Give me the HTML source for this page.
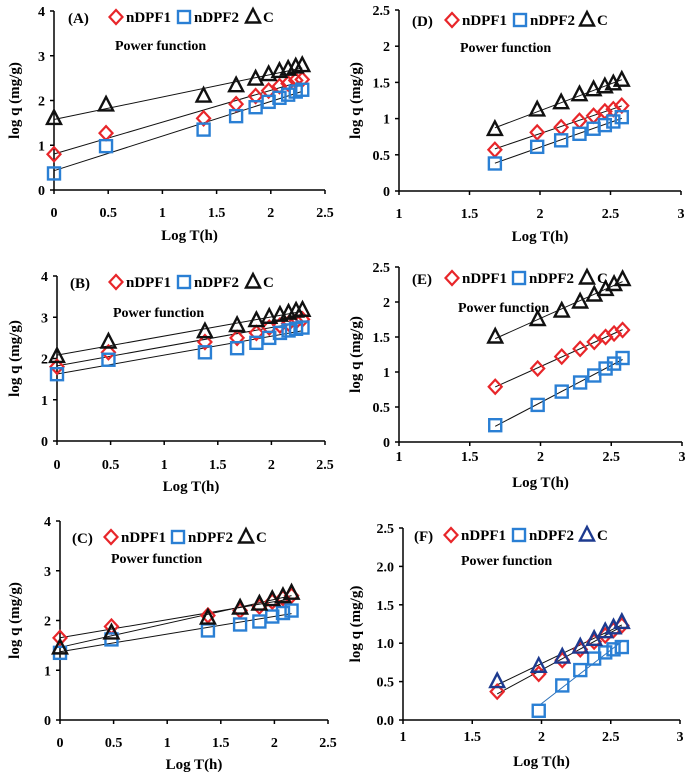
<!DOCTYPE html>
<html><head><meta charset="utf-8">
<style>
html,body{margin:0;padding:0;background:#fff;}
svg{display:block;font-family:"Liberation Serif",serif;font-weight:bold;}
</style></head>
<body>
<svg id="fig" width="685" height="775" viewBox="0 0 685 775" xmlns="http://www.w3.org/2000/svg"></svg>
<script>
// ---- data ----
const xA = [0,0.48,1.38,1.68,1.86,1.98,2.08,2.16,2.23,2.29];
const aDPF1 = [0.8,1.27,1.6,1.92,2.1,2.22,2.32,2.38,2.45,2.47];
const aDPF2 = [0.37,0.98,1.35,1.65,1.85,1.97,2.06,2.13,2.2,2.24];
const aC = [1.6,1.9,2.1,2.33,2.48,2.58,2.65,2.7,2.75,2.78];
const xB = [0,0.48,1.38,1.68,1.86,1.98,2.08,2.16,2.23,2.29];
const bDPF1 = [1.8,2.15,2.4,2.5,2.62,2.75,2.8,2.85,2.9,2.95];
const bDPF2 = [1.62,1.97,2.15,2.25,2.38,2.5,2.62,2.68,2.72,2.75];
const bC = [2.05,2.4,2.65,2.8,2.92,3.0,3.05,3.1,3.15,3.17];
const xC = [0,0.48,1.38,1.68,1.86,1.98,2.08,2.16];
const cDPF1 = [1.65,1.88,2.1,2.2,2.28,2.38,2.45,2.5];
const cDPF2 = [1.35,1.62,1.8,1.92,1.98,2.08,2.15,2.2];
const cC = [1.45,1.75,2.05,2.25,2.33,2.42,2.48,2.55];
const xD = [1.68,1.98,2.15,2.28,2.38,2.46,2.52,2.58];
const dDPF1 = [0.57,0.81,0.88,0.97,1.04,1.1,1.13,1.18];
const dDPF2 = [0.38,0.61,0.7,0.79,0.86,0.91,0.96,1.02];
const dC = [0.85,1.12,1.22,1.33,1.4,1.44,1.48,1.53];
const xE = [1.68,1.98,2.15,2.28,2.38,2.46,2.52,2.58];
const eDPF1 = [0.79,1.05,1.22,1.33,1.43,1.5,1.55,1.6];
const eDPF2 = [0.24,0.53,0.72,0.85,0.95,1.05,1.12,1.2];
const eC = [1.5,1.75,1.87,2.0,2.1,2.18,2.25,2.32];
const xF = [1.68,1.98,2.15,2.28,2.38,2.46,2.52,2.58];
const xF2 = [1.98,2.15,2.28,2.38,2.46,2.52,2.58];
const fDPF1 = [0.37,0.6,0.78,0.92,1.02,1.1,1.17,1.23];
const fDPF2 = [0.12,0.45,0.65,0.8,0.88,0.92,0.95];
const fC = [0.5,0.7,0.82,0.95,1.05,1.15,1.2,1.27];
const xTicksLeft = [0,0.5,1,1.5,2,2.5];
const xTickLabelsLeft = ["0","0.5","1","1.5","2","2.5"];
const yTicksLeft = [0,1,2,3,4];
const yTickLabelsLeft = ["0","1","2","3","4"];
const xTicksRight = [1,1.5,2,2.5,3];
const xTickLabelsRight = ["1","1.5","2","2.5","3"];
const yTicksRight = [0,0.5,1,1.5,2,2.5];
const yTickLabelsRight = ["0","0.5","1","1.5","2","2.5"];
const yTickLabelsF = ["0.0","0.5","1.0","1.5","2.0","2.5"];

const svg = document.getElementById('fig');
const NS = 'http://www.w3.org/2000/svg';
function mk(tag, attrs, parent){const e=document.createElementNS(NS,tag);for(const k in attrs)e.setAttribute(k,attrs[k]);(parent||svg).appendChild(e);return e;}
function fit(xs,ys){const n=xs.length;let sx=0,sy=0,sxx=0,sxy=0;for(let i=0;i<n;i++){sx+=xs[i];sy+=ys[i];sxx+=xs[i]*xs[i];sxy+=xs[i]*ys[i];}const b=(n*sxy-sx*sy)/(n*sxx-sx*sx);return {b:b,a:(sy-b*sx)/n};}

function marker(g,type,cx,cy,color){
  let e;
  if(type==='diamond'){e=mk('polygon',{points:`${cx},${cy-7} ${cx+6.5},${cy} ${cx},${cy+7} ${cx-6.5},${cy}`,fill:'none',stroke:color,'stroke-width':2.2},g);}
  else if(type==='square'){e=mk('rect',{x:cx-6,y:cy-6,width:12,height:12,fill:'none',stroke:color,'stroke-width':2.4},g);}
  else {e=mk('polygon',{points:`${cx},${cy-8} ${cx+7},${cy+5.5} ${cx-7},${cy+5.5}`,fill:'none',stroke:color,'stroke-width':2.4},g);}
  return e;
}

const panels = [
 {id:'A',ax:54,right:325,top:11,bot:190,xmin:0,xmax:2.5,ymax:4,xt:xTicksLeft,xl:xTickLabelsLeft,yt:yTicksLeft,yl:yTickLabelsLeft,
  series:[[xA,aDPF1,'diamond','#e8262a'],[xA,aDPF2,'square','#2a7fd4'],[xA,aC,'triangle','#111']],
  lab:68,labY:17,leg:[116,184,253],powX:115,powY:45,xlabY:212,titleY:235,ytitleX:14,fitColor:['#111','#111','#111']},
 {id:'B',ax:57,right:325,top:276,bot:441,xmin:0,xmax:2.5,ymax:4,xt:xTicksLeft,xl:xTickLabelsLeft,yt:yTicksLeft,yl:yTickLabelsLeft,
  series:[[xB,bDPF1,'diamond','#e8262a'],[xB,bDPF2,'square','#2a7fd4'],[xB,bC,'triangle','#111']],
  lab:70,labY:282,leg:[116,184,253],powX:113,powY:312,xlabY:464,titleY:486,ytitleX:14,fitColor:['#111','#111','#111']},
 {id:'C',ax:60,right:328,top:521,bot:720,xmin:0,xmax:2.5,ymax:4,xt:xTicksLeft,xl:xTickLabelsLeft,yt:yTicksLeft,yl:yTickLabelsLeft,
  series:[[xC,cDPF1,'diamond','#e8262a'],[xC,cDPF2,'square','#2a7fd4'],[xC,cC,'triangle','#111']],
  lab:72,labY:537,leg:[111,178,246],powX:111,powY:558,xlabY:742,titleY:764,ytitleX:14,fitColor:['#111','#111','#111']},
 {id:'D',ax:399,right:681,top:10,bot:191,xmin:1,xmax:3,ymax:2.5,xt:xTicksRight,xl:xTickLabelsRight,yt:yTicksRight,yl:yTickLabelsRight,
  series:[[xD,dDPF1,'diamond','#e8262a'],[xD,dDPF2,'square','#2a7fd4'],[xD,dC,'triangle','#111']],
  lab:412,labY:20,leg:[452,520,587],powX:460,powY:47,xlabY:213,titleY:236,ytitleX:355,fitColor:['#111','#111','#111']},
 {id:'E',ax:399,right:682,top:267,bot:442,xmin:1,xmax:3,ymax:2.5,xt:xTicksRight,xl:xTickLabelsRight,yt:yTicksRight,yl:yTickLabelsRight,
  series:[[xE,eDPF1,'diamond','#e8262a'],[xE,eDPF2,'square','#2a7fd4'],[xE,eC,'triangle','#111']],
  lab:412,labY:278,leg:[452,519,587],powX:458,powY:307,xlabY:456,titleY:482,ytitleX:355,fitColor:['#111','#111','#111']},
 {id:'F',ax:403,right:680,top:528,bot:720,xmin:1,xmax:3,ymax:2.5,xt:xTicksRight,xl:xTickLabelsRight,yt:yTicksRight,yl:yTickLabelsF,
  series:[[xF,fDPF1,'diamond','#e8262a'],[xF2,fDPF2,'square','#2a7fd4'],[xF,fC,'triangle','#1d3a8f']],
  lab:414,labY:535,leg:[451,519,587],powX:461,powY:560,xlabY:736,titleY:761,ytitleX:355,fitColor:['#111','#2a6fb8','#111']}
];
const legNames=['nDPF1','nDPF2','C'];

panels.forEach(p=>{
  const g=mk('g',{});
  
  
  const sx=v=>p.ax+(v-p.xmin)/(p.xmax-p.xmin)*(p.right-p.ax);
  const sy=v=>p.bot-v/p.ymax*(p.bot-p.top);
  const ya=mk('line',{x1:p.ax,y1:p.top,x2:p.ax,y2:p.bot,stroke:'#000','stroke-width':1.5},g);
  
  
  const xa=mk('line',{x1:p.ax,y1:p.bot,x2:p.right,y2:p.bot,stroke:'#000','stroke-width':1.5},g);
  
  
  p.yt.forEach((v,i)=>{
    mk('line',{x1:p.ax-4,y1:sy(v),x2:p.ax,y2:sy(v),stroke:'#000','stroke-width':1.5},g);
    const t=mk('text',{x:p.ax-9,y:sy(v)+5,'text-anchor':'end','font-size':14},g);
    t.textContent=p.yl[i];
    
    
  });
  p.xt.forEach((v,i)=>{
    mk('line',{x1:sx(v),y1:p.bot,x2:sx(v),y2:p.bot+4,stroke:'#000','stroke-width':1.5},g);
    const t=mk('text',{x:sx(v),y:p.xlabY+5,'text-anchor':'middle','font-size':14},g);
    t.textContent=p.xl[i];
    
    
  });
  const xt=mk('text',{x:(p.ax+p.right)/2,y:p.titleY+5,'text-anchor':'middle','font-size':15},g);
  xt.textContent='Log T(h)';
  
  
  const cy=(p.top+p.bot)/2;
  const yt=mk('text',{x:p.ytitleX,y:cy,'text-anchor':'middle','font-size':15,transform:`rotate(-90 ${p.ytitleX} ${cy})`,dy:5},g);
  yt.textContent='log q (mg/g)';
  
  
  p.series.forEach((s,k)=>{
    const f=fit(s[0],s[1]);
    let x0=s[0][0], x1=s[0][s[0].length-1];
    let y0=f.a+f.b*x0;
    if(y0<0){x0=-f.a/f.b;y0=0;}
    const ln=mk('line',{x1:sx(x0),y1:sy(y0),x2:sx(x1),y2:sy(f.a+f.b*x1),stroke:p.fitColor[k],'stroke-width':1},g);
    
    
  });
  p.series.forEach((s,k)=>{
    s[0].forEach((xv,i)=>{
      const m=marker(g,s[2],sx(xv),sy(s[1][i]),s[3]);
      
      
    });
  });
  const lt=mk('text',{x:p.lab,y:p.labY+6,'font-size':15},g);
  lt.textContent='('+p.id+')';
  
  
  p.series.forEach((s,k)=>{
    const lg=mk('g',{},g);
    
    
    marker(lg,s[2],p.leg[k],p.labY,s[3]);
    const tt=mk('text',{x:p.leg[k]+10,y:p.labY+5,'font-size':15},lg);
    tt.textContent=legNames[k];
  });
  const pf=mk('text',{x:p.powX,y:p.powY+5,'font-size':14},g);
  pf.textContent='Power function';
  
  
});
</script>
</body></html>
